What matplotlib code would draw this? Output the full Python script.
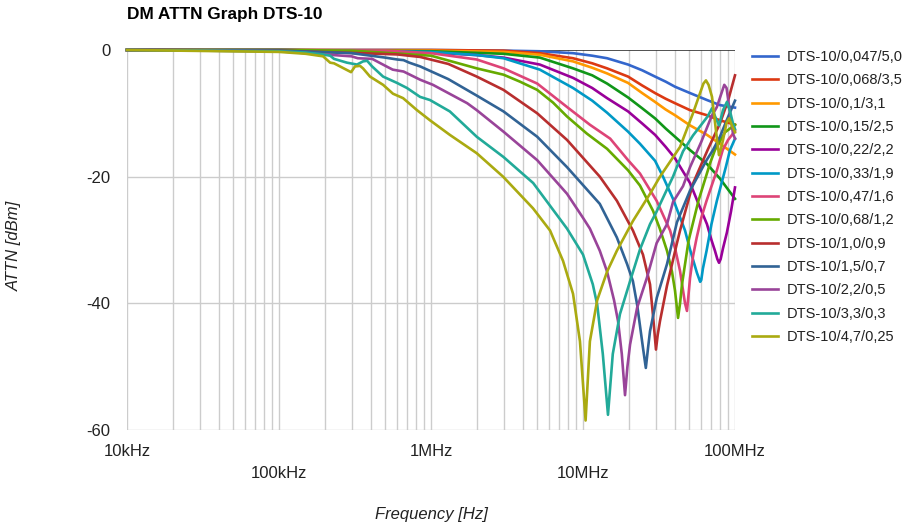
import matplotlib
matplotlib.use('Agg')
import matplotlib.pyplot as plt
import numpy as np

plt.rcParams['font.family'] = ['Liberation Sans', 'DejaVu Sans']

# frequencies in MHz, attenuation in dB
labels = ['DTS-10/0,047/5,0', 'DTS-10/0,068/3,5', 'DTS-10/0,1/3,1', 'DTS-10/0,15/2,5',
          'DTS-10/0,22/2,2', 'DTS-10/0,33/1,9', 'DTS-10/0,47/1,6', 'DTS-10/0,68/1,2',
          'DTS-10/1,0/0,9', 'DTS-10/1,5/0,7', 'DTS-10/2,2/0,5', 'DTS-10/3,3/0,3',
          'DTS-10/4,7/0,25']
colors = ['#3366cc', '#dc3912', '#ff9900', '#109618', '#990099', '#0099c6', '#dd4477',
          '#66aa00', '#b82e2e', '#316395', '#994499', '#22aa99', '#aaaa11']

f_top = [0.01, 0.1, 1, 3, 5.2, 8.6, 11.5, 14.4, 19.8, 24.5, 29.8, 35, 40.3, 50.6, 65.4, 79.6, 100]
db_047 = [0, 0, 0, -0.1, -0.2, -0.5, -0.9, -1.3, -2.3, -3.2, -4.2, -5.0, -5.8, -6.8, -7.9, -8.7, -9.1]
db_068 = [0, 0, 0, -0.1, -0.5, -1.3, -2.1, -2.9, -4.2, -5.6, -6.8, -7.7, -8.4, -9.5, -10.3, -11.1, -11.8]
db_01 = [0, 0, -0.1, -0.3, -0.75, -1.8, -2.8, -3.7, -5.2, -6.8, -8.2, -9.4, -10.3, -11.9, -13.4, -14.8, -16.5]
db_015 = [0, 0, -0.2, -0.6, -1.2, -2.9, -4.0, -5.3, -7.5, -9.2, -10.8, -12.4, -13.7, -15.8, -18, -20.3, -23.5]

f_022 = [0.01, 0.1, 1, 2, 3, 5.2, 8.6, 11.5, 14.4, 19.8, 24.5, 29.8, 35, 40.3, 50.6, 58, 65.4,
         70, 73.8, 76.5, 78.5, 80.5, 83.4, 88.5, 94.1, 100]
db_022 = [0, 0, -0.4, -0.8, -1.2, -2.3, -4.4, -6.0, -7.6, -9.7, -11.6, -13.4, -15.3, -17.1, -21,
          -24.5, -27.5, -30, -31.7, -33, -33.6, -33, -31.3, -28.8, -25.5, -21.7]

f_033 = [0.01, 0.1, 1, 2, 3, 5.2, 8.6, 11.5, 14.4, 19.8, 23.7, 29.8, 33.6, 39.1, 46.9, 50.6, 56.2,
         59, 60, 61.5, 65, 70, 76, 87, 92.7, 100]
db_033 = [0, 0, -0.3, -0.8, -1.3, -3.1, -6.0, -8.0, -9.9, -12.9, -14.8, -17.5, -20, -23.5, -28.5,
          -31.5, -35.2, -36.6, -36.3, -34.5, -31.7, -27.5, -23.8, -18.5, -15.8, -14]

f_047 = [0.01, 0.1, 0.5, 1, 2, 3, 5, 7.85, 11.1, 15.1, 19.8, 23.7, 30.5, 37.4, 40.5, 43.5, 46.9,
         48.3, 49.3, 50.6, 53, 56, 60, 65, 76, 83, 90, 100]
db_047b = [0, 0, -0.1, -0.5, -1.5, -2.9, -5.3, -9, -11.8, -14, -17.4, -19.5, -23.8, -28.5, -31.5,
           -34.9, -40, -41.2, -39, -36, -32.5, -29.6, -26.5, -23.8, -19, -15.8, -14.2, -12.8]

f_068 = [0.01, 0.1, 0.3, 1, 2, 3, 3.85, 5, 6.35, 7.85, 10.6, 14.4, 19.8, 23.7, 28.9, 32, 35.7,
         38.5, 40.3, 42.2, 43.5, 44.8, 49.5, 57.5, 68.5, 73.8, 85.9, 100]
db_068b = [0, 0, -0.1, -0.9, -2.9, -3.9, -5, -6.3, -8.3, -10.5, -13.2, -15.6, -19, -21.4, -25.4,
           -28.2, -31.7, -35, -38, -42.3, -40, -37, -30.1, -23.8, -17.9, -15.8, -13, -11.8]

f_10 = [0.01, 0.1, 0.34, 0.6, 0.85, 1.3, 2, 3, 5, 7.85, 12.9, 16.7, 21.3, 24.8, 27.6, 28.9, 30.2,
        31, 32.1, 35.7, 41.5, 43.5, 52.9, 66, 79.6, 90, 100]
db_10 = [0, -0.1, -0.5, -0.7, -1.1, -2.2, -4.2, -6.3, -10, -14.2, -20, -23.8, -28.5, -32.3, -37,
         -42, -47.3, -45, -42.8, -37.2, -30.5, -28.5, -21.1, -15.8, -11.6, -8, -4]

f_15 = [0.01, 0.1, 0.3, 0.5, 0.6, 0.66, 0.72, 0.85, 1.3, 2, 3, 5, 7.85, 12.9, 16.7, 19.5, 21.3,
        22.7, 24.8, 25.9, 26.8, 27.6, 30.6, 35.7, 41.5, 50.6, 65, 71.6, 79.6, 88.5, 100]
db_15 = [0, -0.1, -0.5, -1.2, -1.5, -1.6, -2.0, -2.6, -4.6, -7.2, -9.7, -13.7, -18.5, -24.3, -29.6,
         -33.8, -36.5, -40.2, -47, -50.2, -47, -44.4, -39.1, -33.8, -27.2, -22.2, -17.4, -15.8,
         -13.7, -11, -8]

f_22 = [0.01, 0.1, 0.3, 0.33, 0.41, 0.51, 0.56, 0.66, 0.85, 1.03, 1.73, 2, 3, 5, 7.85, 10, 11.1,
        12.9, 14.4, 16, 17, 18, 18.9, 19.6, 20.4, 22.7, 26.3, 30.5, 35.7, 39.1, 45.5, 50.6, 60,
        70, 76, 81, 85, 88, 91, 97, 100]
db_22 = [0, -0.2, -1.0, -1.3, -1.4, -2.6, -3.1, -3.4, -4.7, -5.5, -8.4, -9.5, -12.9, -17.4, -22.7,
         -26.5, -28.2, -31.7, -35, -39.5, -42.8, -48, -54.5, -50, -46.5, -40.7, -36, -30.5, -27.5,
         -24, -21.5, -18.5, -14.5, -10.5, -9, -7, -5.5, -6, -8.5, -13.2, -14]

f_33 = [0.01, 0.1, 0.15, 0.195, 0.217, 0.23, 0.28, 0.326, 0.357, 0.38, 0.41, 0.484, 0.598, 0.695,
        0.847, 0.985, 1.33, 2, 3, 4.7, 7.85, 10, 11.6, 12.4, 13.5, 14.6, 15.7, 17.5, 20.4, 23.7,
        27.6, 30.5, 35.7, 39.1, 45.5, 52.9, 60, 66, 70.6, 74, 78.5, 83.4, 88.5, 93, 97, 100]
db_33 = [0, -0.2, -0.4, -0.7, -0.9, -1.4, -2.0, -2.3, -1.8, -1.7, -2.6, -4.2, -5.2, -6.0, -7.4,
         -7.9, -9.7, -13.7, -16.9, -21, -28.2, -32.3, -37, -40.2, -48, -57.6, -48, -41.7, -36.5,
         -31.5, -27.5, -25.5, -22, -20, -16, -13.5, -11.8, -10.5, -9.2, -10.5, -11.9, -9.5, -8.2,
         -9.8, -11.6, -12.5]

f_47 = [0.01, 0.1, 0.15, 0.195, 0.217, 0.23, 0.298, 0.316, 0.341, 0.357, 0.397, 0.484, 0.562,
        0.655, 0.809, 0.985, 1.33, 2, 2.98, 4.69, 6.07, 7.39, 8.6, 9.55, 10.4, 11.1, 12.4, 14.4,
        16.7, 21.3, 27.6, 32.1, 43.5, 52.9, 58.9, 62, 64.4, 67, 70.6, 76.2, 78.5, 80.5, 83.4, 88,
        91.4, 95, 100]
db_47 = [0, -0.3, -0.6, -1.0, -2.0, -2.1, -3.5, -2.6, -2.5, -2.9, -4.2, -5.5, -6.9, -7.6, -9.5,
         -11.1, -13.4, -16.3, -20, -25, -28.5, -33.3, -38.5, -46, -58.5, -46, -39.5, -35, -31.7,
         -27, -22.7, -20, -15.3, -10, -6.8, -5.3, -4.8, -5.5, -7.4, -14.2, -16.6, -15.8, -14.2,
         -11.5, -10.8, -11.8, -13]

series_f = [f_top, f_top, f_top, f_top, f_022, f_033, f_047, f_068, f_10, f_15, f_22, f_33, f_47]
series_db = [db_047, db_068, db_01, db_015, db_022, db_033, db_047b, db_068b, db_10, db_15,
             db_22, db_33, db_47]

fig = plt.figure(figsize=(9.05, 5.26), dpi=100)
ax = fig.add_axes([127 / 905, 1 - 430 / 526, 608 / 905, 380 / 526])

for f, db, c, lab in zip(series_f, series_db, colors, labels):
    ax.plot(np.array(f) * 1e6, db, color=c, lw=1.9, label=lab, clip_on=False, zorder=3,
            solid_joinstyle='round')

ax.set_xscale('log')
ax.set_xlim(1e4, 1e8)
ax.set_ylim(-60, 0)
for s in ax.spines.values():
    s.set_visible(False)

ax.grid(which='both', axis='x', color='#cccccc', lw=1)
ax.set_xticks([1e4, 1e5, 1e6, 1e7, 1e8])
ax.set_xticklabels([])
ax.tick_params(axis='x', which='both', length=0)
ax.set_yticks([0, -20, -40, -60])
ax.set_yticklabels(['0', '-20', '-40', '-60'], fontsize=12, color='#222222')
ax.tick_params(axis='y', length=0, pad=12)
for yv in [-20, -40, -60]:
    ax.axhline(yv, color='#cccccc', lw=1, zorder=1)
ax.axhline(0, color='#333333', lw=1.2, zorder=2)

# two-row frequency labels like the original
xt = ['10kHz', '100kHz', '1MHz', '10MHz', '100MHz']
for i, (xv, t) in enumerate(zip([1e4, 1e5, 1e6, 1e7, 1e8], xt)):
    yy = -22 / 380 if i % 2 == 0 else -44 / 380
    ax.text(xv, yy, t, transform=ax.get_xaxis_transform(), ha='center', va='center',
            fontsize=12, color='#222222')

fig.text(127 / 905, 1 - 15 / 526, 'DM ATTN Graph DTS-10', fontsize=12.4, fontweight='bold',
         ha='left', va='center', color='#000000')
fig.text(14 / 905, 1 - 246 / 526, 'ATTN [dBm]', rotation=90, fontsize=12, style='italic',
         ha='center', va='center', color='#222222')
fig.text(431 / 905, 1 - 515 / 526, 'Frequency [Hz]', fontsize=12, style='italic',
         ha='center', va='center', color='#222222')

ax.legend(loc='upper left', bbox_to_anchor=(752 / 905, 1 - 50 / 526),
          bbox_transform=fig.transFigure, frameon=False, fontsize=10.5, handlelength=1.8,
          handletextpad=0.55, labelspacing=0.64, borderpad=0, borderaxespad=0,
          labelcolor='#222222')

fig.savefig('out.png', dpi=100)
